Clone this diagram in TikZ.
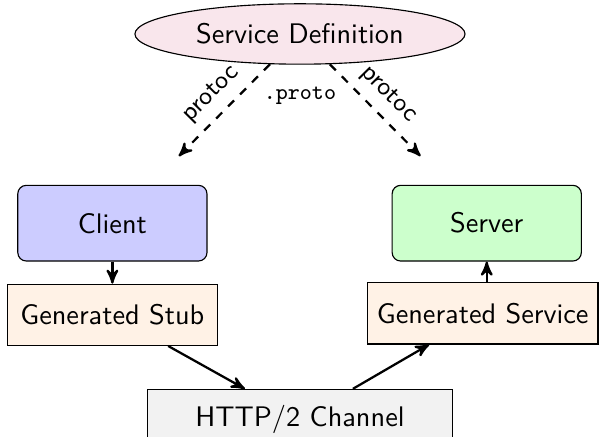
\documentclass[tikz,border=0pt]{standalone}
\usepackage{tikz}
\renewcommand{\familydefault}{\sfdefault}
\definecolor{colspec}{RGB}{249,230,236}
\definecolor{colclient}{RGB}{204,204,255}
\definecolor{colserver}{RGB}{204,255,204}
\definecolor{colgen}{RGB}{255,242,230}
\definecolor{colchannel}{RGB}{242,242,242}
\usetikzlibrary{
	arrows,
	positioning,
	shapes.geometric
}
\tikzset{
	>=stealth',
	specnode/.style={ellipse, draw, fill=colspec, minimum width=4.1cm, minimum height=0.75cm},
	endnode/.style={draw, rounded corners=3pt, minimum width=2.35cm, minimum height=0.94cm},
	gennode/.style={draw, fill=colgen, minimum height=0.76cm},
	channelnode/.style={draw, fill=colchannel, minimum width=3.78cm, minimum height=0.75cm},
	flowedge/.style={->, thick},
	genedge/.style={->, thick, dashed, shorten >=0.5cm},
	edgelabel/.style={font=\small, sloped, above, pos=0.37}
}
\begin{document}
\begin{tikzpicture}
	\useasboundingbox (-3.726,0.422) rectangle (3.739,-5.005);

	\node[specnode] (spec) at (0,0) {Service Definition};
	\node[endnode, fill=colclient] (client) at (-2.33,-2.35) {Client};
	\node[endnode, fill=colserver] (server) at (2.32,-2.35) {Server};
	\node[gennode, minimum width=2.61cm] (stub) [below=7.8pt of client] {Generated Stub};
	\node[gennode, minimum width=2.84cm] (service) at (2.27,-3.47) {Generated Service};
	\node[channelnode] (channel) at (0,-4.79) {HTTP/2 Channel};
	\node[font=\ttfamily\footnotesize] (proto) [below=1.5mm of spec] {.proto};

	\path[genedge]
		(spec) edge node[edgelabel] {protoc} (client)
			edge node[edgelabel] {protoc} (server)
	;

	\path[flowedge]
		(client) edge (stub)
		(stub) edge (channel)
		(channel) edge (service)
		(service.north -| server.south) edge (server)
	;
\end{tikzpicture}
\end{document}
